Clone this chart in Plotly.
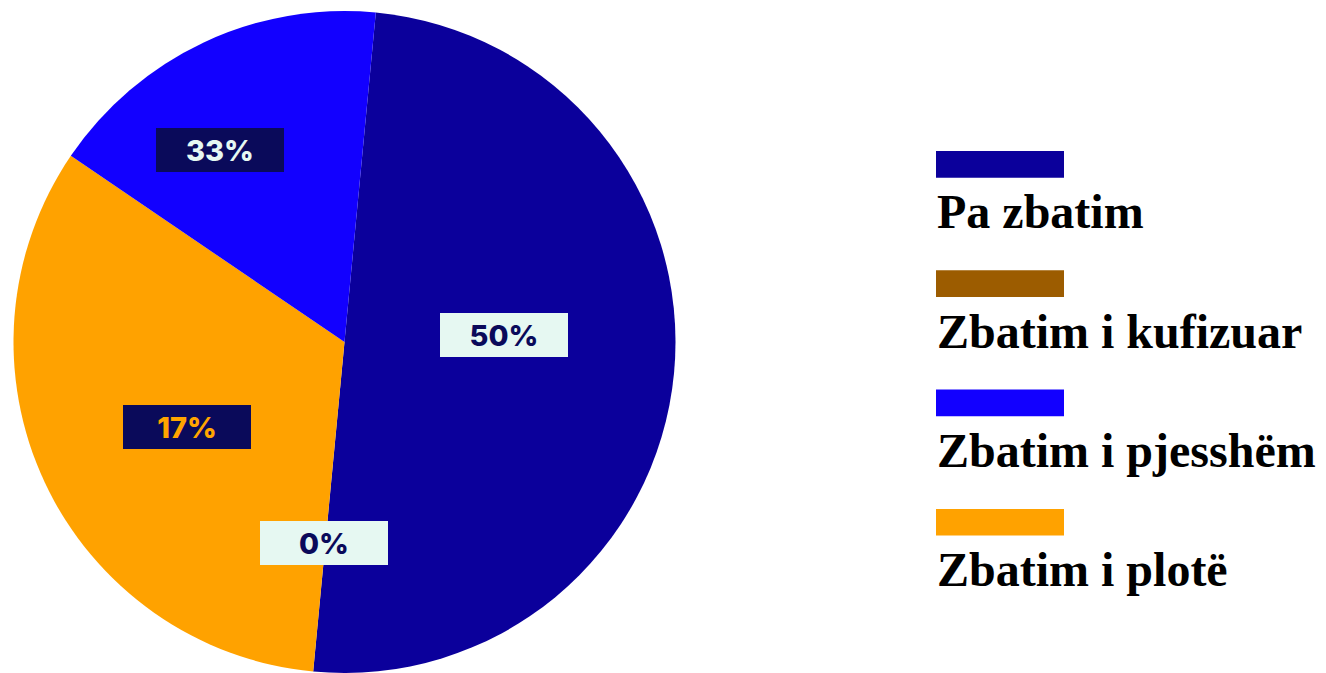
import math
import plotly.graph_objects as go

# ---------------- data ----------------
CATEGORIES = ["Pa zbatim", "Zbatim i kufizuar", "Zbatim i pjesshëm", "Zbatim i plotë"]
VALUES = [50, 0, 17, 33]
LABEL_TEXTS = ["50%", "0%", "33%", "17%"]

# ---------------- style ----------------
SLICE_COLORS = ["#0b009b", "#9c5c00", "#1200ff", "#ffa200"]
SLICE_ORDER = [0, 1, 3, 2]          # drawing order of the slices (clockwise)
ROTATION = 5.43                      # start angle of first slice, degrees clockwise from 12 o'clock

LABEL_BOX_COLORS = ["#e6f8f2", "#e6f8f2", "#0a0a5a", "#0a0a5a"]
LABEL_FONT_COLORS = ["#0a0a5a", "#0a0a5a", "#e6f8f2", "#ffa500"]
LABEL_RADIUS = [0.483, 0.596, 0.703, 0.534]   # fraction of pie radius
LABEL_NUDGE = [-9.9, 0.5, -7.2, -1.7]         # degrees offset from slice middle

W, H = 1326, 673
CX, CY, R = 344.5, 342.0, 331.0      # pie centre / radius in pixels
LABEL_CY = 347.0                     # centre used for placing the value labels

fig = go.Figure()

fig.add_trace(go.Pie(
    labels=[CATEGORIES[i] for i in SLICE_ORDER],
    values=[VALUES[i] for i in SLICE_ORDER],
    marker=dict(colors=[SLICE_COLORS[i] for i in SLICE_ORDER], line=dict(width=0)),
    sort=False,
    direction="clockwise",
    rotation=ROTATION,
    textinfo="none",
    hoverinfo="label+percent",
    showlegend=False,
    domain=dict(x=[(CX - R) / W, (CX + R) / W], y=[(H - CY - R) / H, (H - CY + R) / H]),
))

# slice-centred value labels
total = sum(VALUES)
cum = 0.0
mid_angle = {}
for i in SLICE_ORDER:
    mid_angle[i] = ROTATION + 360.0 * (cum + VALUES[i] / 2.0) / total
    cum += VALUES[i]

annotations = []
for i, txt in enumerate(LABEL_TEXTS):
    a = math.radians(mid_angle[i] + LABEL_NUDGE[i])
    px = CX + LABEL_RADIUS[i] * R * math.sin(a)
    py = LABEL_CY - LABEL_RADIUS[i] * R * math.cos(a)
    annotations.append(dict(
        x=px / W, y=1 - py / H, xref="paper", yref="paper",
        text=txt, showarrow=False, xanchor="center", yanchor="middle",
        width=128, height=44, borderpad=0, borderwidth=0,
        bgcolor=LABEL_BOX_COLORS[i],
        font=dict(family="Inter, Roboto, sans-serif", size=29, color=LABEL_FONT_COLORS[i], weight=800),
    ))

# custom legend: colour bar above each category name
shapes = []
LEG_X0, LEG_X1 = 936, 1064
LEG_TOP0, LEG_STEP, LEG_BAR_H = 151, 119.3, 26.7
LEG_FONT = 48
for i, cat in enumerate(CATEGORIES):
    top = LEG_TOP0 + i * LEG_STEP
    shapes.append(dict(
        type="rect", xref="paper", yref="paper",
        x0=LEG_X0 / W, x1=LEG_X1 / W, y0=1 - (top + LEG_BAR_H) / H, y1=1 - top / H,
        fillcolor=SLICE_COLORS[i], line=dict(width=0),
    ))
    baseline = top + 77
    annotations.append(dict(
        x=LEG_X0 / W, y=1 - (baseline - 0.338 * LEG_FONT) / H, xref="paper", yref="paper",
        text=cat, showarrow=False, xanchor="left", yanchor="middle", borderpad=0,
        font=dict(family="Liberation Serif, Times New Roman, serif", size=LEG_FONT, color="#000000", weight=700),
    ))

fig.update_layout(
    width=W, height=H,
    margin=dict(l=0, r=0, t=0, b=0),
    paper_bgcolor="white", plot_bgcolor="white",
    annotations=annotations, shapes=shapes,
    showlegend=False,
)

fig.write_html(
    "out.html",
    config={"displayModeBar": False},
    post_script="document.body.style.margin='0';document.body.style.overflow='hidden';",
)
